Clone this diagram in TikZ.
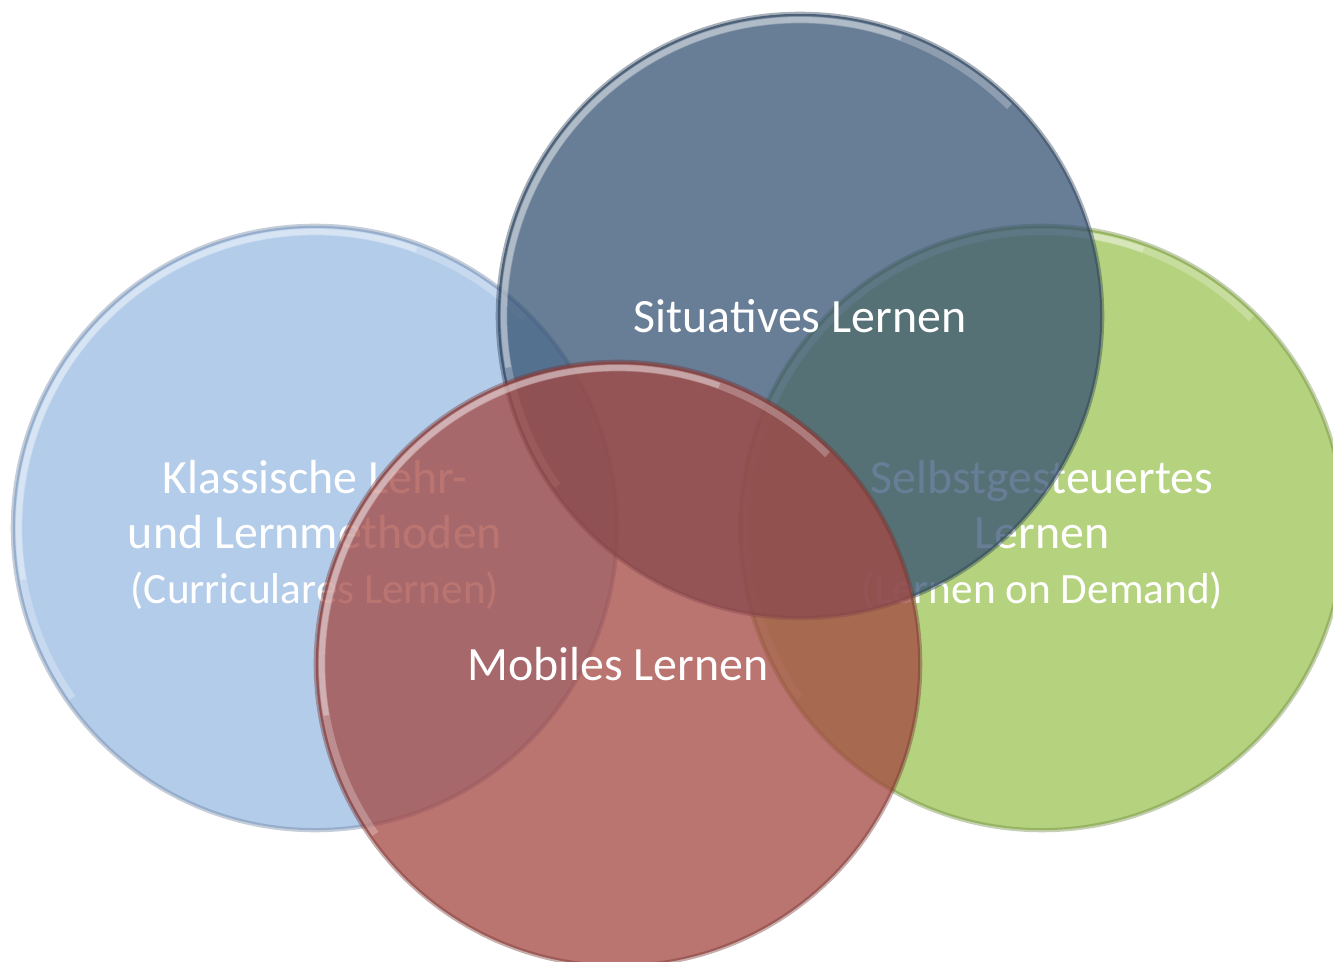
\documentclass[tikz,border=0pt]{standalone}
\usepackage{fontspec}
\setmainfont{Carlito}

\definecolor{lehrblau}{RGB}{154,187,227}
\definecolor{situblau}{RGB}{54,82,115}
\definecolor{selbstgruen}{RGB}{156,195,84}
\definecolor{mobilrot}{RGB}{164,71,66}

\newcommand{\unterzeile}[1]{{\fontsize{12.3}{15.6}\selectfont #1}}

\begin{document}
\begin{tikzpicture}[
  x=0.01cm,y=-0.01cm,
  venn/.style={circle,fill=#1,fill opacity=0.75,draw=#1!70!black,draw opacity=0.4,line width=1.2pt,
    minimum size=6.04cm,inner sep=0pt,
    path picture={
      \draw[white,opacity=0.25,line width=2pt]
        ([shift={(215:2.96cm)}]path picture bounding box.center) arc[start angle=215,end angle=45,radius=2.96cm];
      \draw[white,opacity=0.3,line width=1.6pt]
        ([shift={(190:2.96cm)}]path picture bounding box.center) arc[start angle=190,end angle=70,radius=2.96cm];}},
  venntext/.style={align=center,text=white,inner sep=0pt,font=\fontsize{13.6}{15.7}\selectfont},
]
\useasboundingbox (0,0) rectangle (1333,962);
\clip (0,0) rectangle (1333,962);

% === BACK CIRCLES ===
\node[venn=lehrblau] (klassisch) at (315,528) {};
\node[venntext] (klassisch-text) at ([yshift=-0.07cm]klassisch.center) {Klassische Lehr-\\und Lernmethoden\\\unterzeile{(Curriculares Lernen)}};

\node[venn=selbstgruen] (selbst) at (1042,528) {};
\node[venntext] (selbst-text) at ([yshift=-0.07cm]selbst.center) {Selbstgesteuertes\\Lernen\\\unterzeile{(Lernen on Demand)}};

% === FRONT CIRCLES ===
\node[venn=situblau] (situativ) at (800,316) {};
\node[venntext] (situativ-text) at (situativ.center) {Situatives Lernen};

\node[venn=mobilrot] (mobil) at (618,664) {};
\node[venntext] (mobil-text) at (mobil.center) {Mobiles Lernen};

\end{tikzpicture}
\end{document}
